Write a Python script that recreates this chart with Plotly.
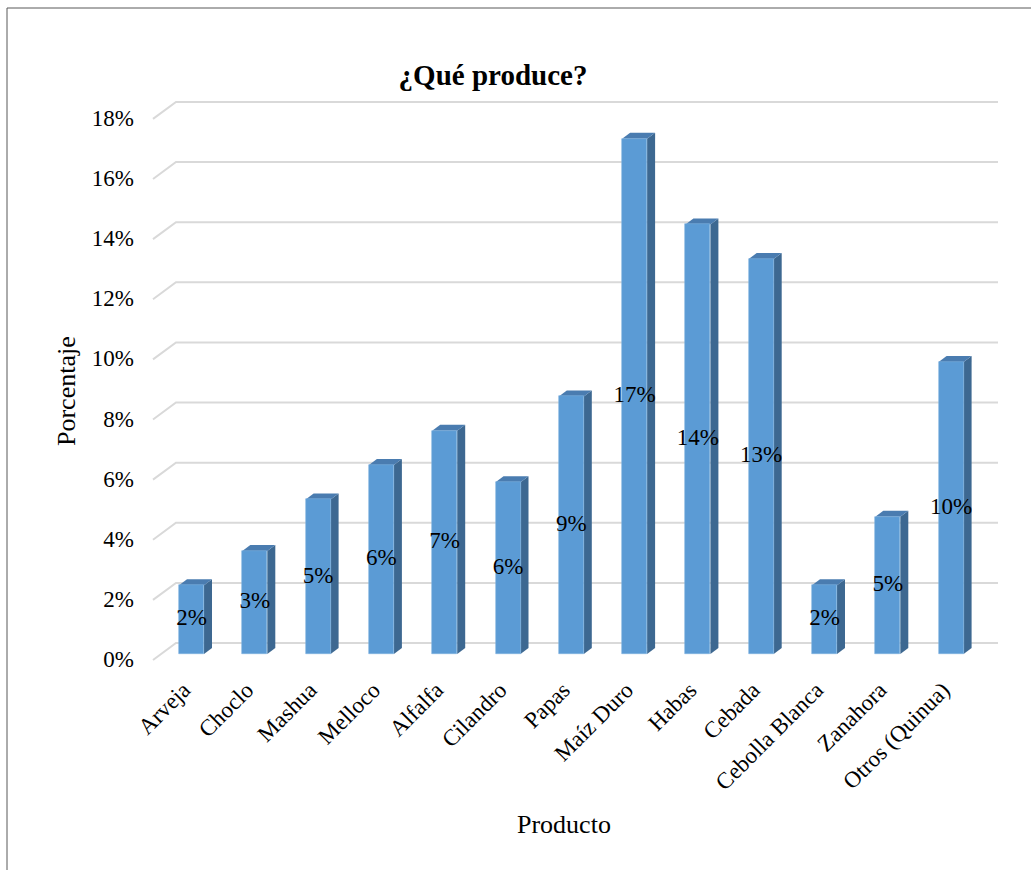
import plotly.graph_objects as go

# Share of producers by crop
productos = ["Arveja", "Choclo", "Mashua", "Melloco", "Alfalfa", "Cilandro", "Papas",
             "Maíz Duro", "Habas", "Cebada", "Cebolla Blanca", "Zanahora", "Otros (Quinua)"]
porcentajes = [2.29, 3.43, 5.14, 6.29, 7.43, 5.71, 8.57, 17.14, 14.29, 13.14, 2.29, 4.57, 9.71]
y_ticks = [0, 2, 4, 6, 8, 10, 12, 14, 16, 18]

valores = [p / 100 for p in porcentajes]
x_pos = list(range(len(productos)))

FONT = "Liberation Serif, Times New Roman, serif"
FRONT = "#5B9BD5"
SIDE = "#3D6891"
TOP = "#4A7CB0"
GRID = "#D9D9D9"

# Page geometry (pixels)
FIG_W, FIG_H = 1031, 870
L, R, T, B = 153, 998, 95, 665
PLOT_W, PLOT_H = R - L, B - T
C0, STEP = 191.5, 63.3          # pixel centre of first category, spacing
Y0_PX, PX_PER_UNIT = 654, 3006  # pixel of 0 on the bar plane, pixels per 100%
BAR_PX = 25
DEPTH_X, DEPTH_Y = 8, 6          # oblique depth of the 3-D columns
GRID_FRONT, GRID_BACK, GRID_DX = -6, 11, 23

x_range = [(L - C0) / STEP, (R - C0) / STEP]
y_range = [(Y0_PX - B) / PX_PER_UNIT, (Y0_PX - T) / PX_PER_UNIT]
rise = DEPTH_Y / PX_PER_UNIT
half = BAR_PX / 2

fig = go.Figure()

fig.add_trace(go.Bar(
    x=x_pos, y=valores, width=BAR_PX / STEP,
    marker=dict(color=FRONT, line=dict(color="#7FB2E0", width=0.6)),
    hoverinfo="skip", showlegend=False,
))

fig.add_trace(go.Scatter(
    x=x_pos, y=[v / 2 for v in valores], mode="text",
    text=[f"{v:.0%}" for v in valores],
    textfont=dict(family=FONT, size=23, color="black"),
    hoverinfo="skip", showlegend=False,
))

shapes = []
# 3-D grid: short diagonal on the floor side wall, then the back wall line
for t in y_ticks:
    shapes.append(dict(
        type="path", xref="paper", yref="y", layer="below",
        xsizemode="pixel", xanchor=0, ysizemode="pixel", yanchor=t / 100,
        path=f"M 0,{GRID_FRONT} L {GRID_DX},{GRID_BACK} L {PLOT_W},{GRID_BACK}",
        line=dict(color=GRID, width=2),
    ))

# Side and top faces of each column
for x, v in zip(x_pos, valores):
    shapes.append(dict(
        type="path", xref="x", yref="y", layer="below",
        xsizemode="pixel", xanchor=x,
        path=(f"M {half},0 L {half},{v} L {half + DEPTH_X},{v + rise} "
              f"L {half + DEPTH_X},{rise} Z"),
        fillcolor=SIDE, line=dict(width=0),
    ))
    shapes.append(dict(
        type="path", xref="x", yref="y", layer="below",
        xsizemode="pixel", xanchor=x,
        path=(f"M {-half},{v} L {half},{v} L {half + DEPTH_X},{v + rise} "
              f"L {-half + DEPTH_X},{v + rise} Z"),
        fillcolor=TOP, line=dict(width=0),
    ))

# Chart frame
left_px, top_px = 7, 8
fx = (left_px - L) / PLOT_W
fy = (B - top_px) / PLOT_H
shapes.append(dict(type="line", xref="paper", yref="paper",
                   x0=fx, x1=(FIG_W - L) / PLOT_W, y0=fy, y1=fy,
                   line=dict(color="#595959", width=1)))
shapes.append(dict(type="line", xref="paper", yref="paper",
                   x0=fx, x1=fx, y0=fy, y1=(B - FIG_H) / PLOT_H,
                   line=dict(color="#595959", width=1)))

# Axis titles placed in page pixels
annotations = [
    dict(text="Producto", xref="paper", yref="paper",
         x=(564 - L) / PLOT_W, y=(B - 824) / PLOT_H,
         xanchor="center", yanchor="middle", showarrow=False,
         font=dict(family=FONT, size=26, color="black")),
    dict(text="Porcentaje", xref="paper", yref="paper",
         x=(66 - L) / PLOT_W, y=(B - 391) / PLOT_H, textangle=-90,
         xanchor="center", yanchor="middle", showarrow=False,
         font=dict(family=FONT, size=26, color="black")),
]

fig.update_layout(
    width=FIG_W, height=FIG_H,
    margin=dict(l=L, r=FIG_W - R, t=T, b=FIG_H - B, autoexpand=False),
    paper_bgcolor="white", plot_bgcolor="white",
    font=dict(family=FONT, color="black"),
    title=dict(text="<b>¿Qué produce?</b>", x=493 / FIG_W, xanchor="center",
               y=1 - 75 / FIG_H, yanchor="middle",
               font=dict(family=FONT, size=29, color="black")),
    shapes=shapes,
    annotations=annotations,
    showlegend=False,
    bargap=0,
)

fig.update_xaxes(
    range=x_range, tickmode="array", tickvals=x_pos, ticktext=productos,
    tickangle=-45, tickfont=dict(family=FONT, size=23, color="black"),
    ticklabelshift=-8, ticklabelstandoff=6,
    showgrid=False, zeroline=False, showline=False, ticks="",
    automargin=False,
)

fig.update_yaxes(
    range=y_range, tickmode="array", tickvals=[t / 100 for t in y_ticks],
    ticktext=[f"{t}%" for t in y_ticks],
    tickfont=dict(family=FONT, size=23, color="black"),
    ticklabelshift=5, ticklabelstandoff=18,
    showgrid=False, zeroline=False, showline=False, ticks="",
    automargin=False,
)

fig.write_html("out.html")
